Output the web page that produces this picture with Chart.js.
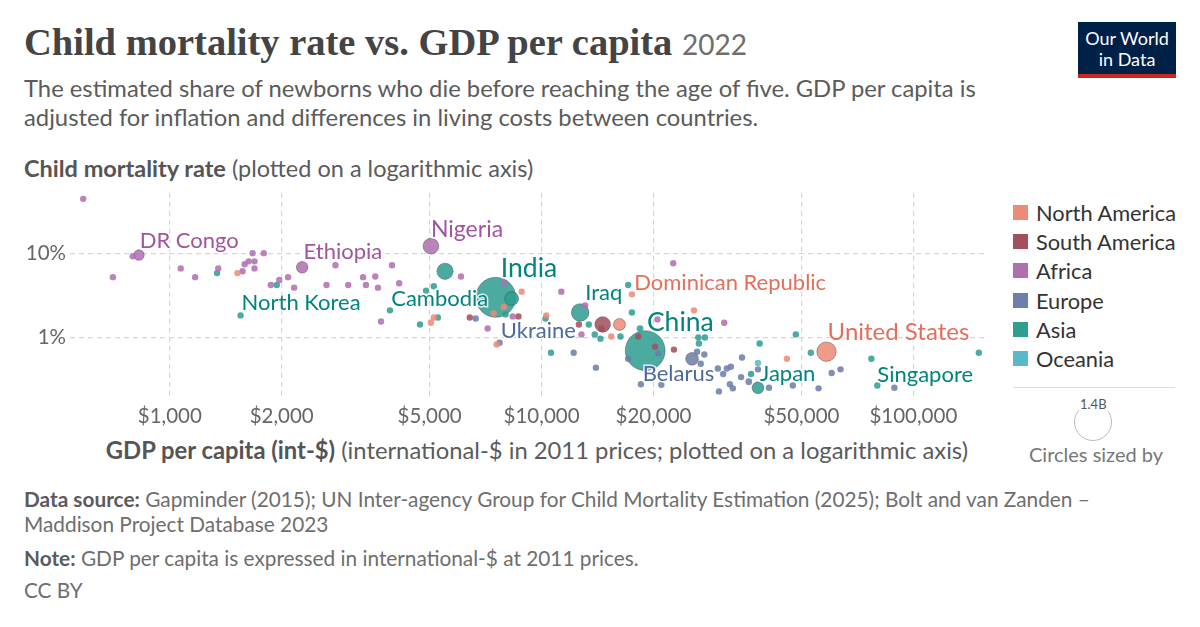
<!DOCTYPE html>
<html><head><meta charset="utf-8">
<script src="https://cdn.jsdelivr.net/npm/chart.js@4"></script>
<style>
body{margin:0;width:1200px;height:627px;background:#fff;font-family:Lato,sans-serif;position:relative;overflow:hidden}
.a{position:absolute;white-space:nowrap}
</style></head><body>
<div class="a" style="left:24px;top:20px;font-family:'Liberation Serif',serif;font-weight:bold;font-size:38.5px;color:#444">Child mortality rate vs. GDP per capita <span style="font-weight:normal;font-size:28px;color:#6e6e6e;font-family:Lato">2022</span></div>
<div class="a" style="left:24px;top:74px;font-size:23.8px;line-height:29px;color:#5b5b5b">The estimated share of newborns who die before reaching the age of five. GDP per capita is<br>adjusted for inflation and differences in living costs between countries.</div>
<div class="a" style="left:24px;top:154px;font-size:23.5px;color:#5b5b5b"><b style="color:#555">Child mortality rate</b> (plotted on a logarithmic axis)</div>
<div class="a" style="left:1078px;top:22px;width:98px;background:#002147;border-bottom:4px solid #ce261e;color:#fff;font-size:18px;line-height:21px;text-align:center;padding-top:6px;box-sizing:border-box;height:56px">Our World<br>in Data</div>
<div class="a" style="left:0;top:172px;width:1008px;height:259px"><canvas id="c"></canvas></div>
<div class="a" style="right:232px;top:436px;font-size:23.8px;color:#5b5b5b"><b style="color:#555">GDP per capita (int-$)</b> (international-$ in 2011 prices; plotted on a logarithmic axis)</div>
<div id="leg" class="a" style="left:1013px;top:198px;font-size:21.8px;color:#333"></div>
<div class="a" style="left:1013px;top:387px;width:162px;height:1px;background:#ddd"></div>
<div class="a" style="left:1074px;top:403px;width:36px;height:36px;border:1.5px solid #bbb;border-radius:50%"></div>
<div class="a" style="left:1079px;top:396px;font-size:13px;color:#555;background:#fff;padding:0 1px">1.4B</div>
<div class="a" style="left:1029px;top:442px;font-size:20px;color:#777">Circles sized by</div>
<div class="a" style="left:24px;top:486px;font-size:20.8px;line-height:25px;color:#6e6e6e"><b style="color:#5b5b5b">Data source:</b> Gapminder (2015); UN Inter-agency Group for Child Mortality Estimation (2025); Bolt and van Zanden –<br>Maddison Project Database 2023</div>
<div class="a" style="left:24px;top:545px;font-size:20.8px;color:#6e6e6e"><b style="color:#5b5b5b">Note:</b> GDP per capita is expressed in international-$ at 2011 prices.</div>
<div class="a" style="left:24px;top:577px;font-size:20.8px;color:#6e6e6e">CC BY</div>
<script>
// [gdp per capita, child mortality %, population millions]
const northAmerica=[[1520,5.8,11],[5040,1.5,20],[5130,1.73,20],[8840,3.5,20],[7910,2.3,20],[7430,1.93,20],[7570,0.83,20],[10300,1.83,20],[15400,1.03,20],[16200,1.43,127],[17500,3.25,11],[25700,2.1,20],[45700,0.56,20],[58400,0.68,335]];
const southAmerica=[[6410,1.73,20],[8670,1.78,20],[12600,1.43,20],[14600,1.43,215],[14500,1.28,20],[18200,1.03,20],[20200,0.78,20],[22700,0.72,20]];
const africa=[[585,44,17],[826,9.5,100],[795,9.2,20],[703,5.2,20],[1070,6.6,20],[1170,5.2,20],[1350,6.6,20],[1570,6.1,20],[1590,7.4,20],[1630,8.0,20],[1690,8.0,20],[1670,10,20],[1790,10,20],[1690,6.6,20],[1870,4.2,20],[1970,4.8,20],[2080,5.2,20],[2160,3.9,20],[2270,6.8,120],[2640,4.2,20],[2790,7.2,20],[3020,4.2,30],[3310,5.2,20],[3370,4.2,20],[3570,5.3,20],[3630,3.9,20],[3960,7.2,20],[4140,4.4,20],[3700,1.55,20],[5040,12.1,220],[6070,5.3,20],[7160,1.28,20],[7910,4.4,20],[8360,1.78,20],[11300,3.5,20],[13100,2.4,20],[12800,1.09,20],[20500,1.64,20],[22600,7.6,20],[31000,1.5,20]];
const europe=[[6650,1.68,20],[7710,0.87,20],[12200,0.66,20],[14000,0.44,20],[17100,0.56,20],[20600,0.65,20],[25400,0.56,145],[26200,0.68,20],[27400,0.63,20],[26800,0.49,20],[29800,0.43,20],[31500,0.43,20],[32300,0.45,20],[30800,0.37,20],[34400,0.34,20],[34600,0.58,20],[36100,0.30,40],[32100,0.28,20],[32700,0.25,20],[30000,0.23,20],[18500,0.28,20],[21000,0.275,20],[38200,0.42,20],[40900,0.254,20],[47400,0.27,20],[55600,0.25,20],[60300,0.38,20],[63700,0.42,20],[88900,0.254,20]];
const asia=[[1340,5.8,20],[1940,4.2,20],[1550,1.83,26],[3910,2.1,20],[4710,1.43,20],[5260,1.73,20],[5500,6.1,235],[5130,4.05,20],[4890,3.6,17],[7530,3.0,1420],[8310,2.9,170],[8000,1.88,20],[10250,1.68,20],[12700,1.98,275],[13400,1.43,20],[13900,1.09,20],[14400,0.97,20],[16300,1.03,20],[17100,4.2,20],[17500,1.98,20],[18400,1.28,40],[19000,0.70,1410],[10600,0.66,20],[26400,1.0,20],[27500,1.0,20],[26500,0.85,20],[38600,0.85,20],[48300,1.09,20],[53000,0.66,20],[36600,0.37,20],[38200,0.254,124],[77100,0.56,20],[80000,0.27,6],[150000,0.66,20]];
const oceania=[[38200,0.50,20]];
const regions=["North America","South America","Africa","Europe","Asia","Oceania"];
const colors=["#EE8A78","#A2505E","#B070B0","#6D7FAA","#2F9E92","#5BB8C8"];
const labelColors=["#E56E5A","#9A4A55","#A2559C","#4C6A9C","#00847E","#3CA4B8"];
const xTicks=[1000,2000,5000,10000,20000,50000,100000];
const yTicks=[1,10];
// [name, gdp, mortality %, region index, font size]
const labels=[["DR Congo",830,13.9,2,22],["Ethiopia",2290,10.3,2,22],["Nigeria",5040,18.8,2,23],["India",7770,6.6,4,26.5],["North Korea",1560,2.6,4,22],["Cambodia",3940,2.9,4,22],["Iraq",13100,3.4,4,22],["Dominican Republic",17750,4.5,0,22],["China",19200,1.5,4,26.5],["Ukraine",7770,1.21,3,22],["United States",58800,1.15,0,24],["Belarus",18700,0.37,3,22],["Japan",38700,0.37,4,22],["Singapore",80000,0.36,4,22]];

const series=[northAmerica,southAmerica,africa,europe,asia,oceania];
document.getElementById('leg').innerHTML=regions.map((r,i)=>`<div style="height:29.2px;display:flex;align-items:center"><span style="width:15px;height:15px;background:${colors[i]};display:inline-block;margin-right:8px"></span>${r}</div>`).join('');
const rad=p=>Math.max(3.2,20*Math.sqrt(p/1420));
const datasets=series.map((s,i)=>({label:regions[i],data:s.map(d=>({x:d[0],y:d[1],p:d[2]})).sort((a,b)=>b.p-a.p),
 backgroundColor:colors[i]+'dd',borderColor:'rgba(60,60,60,0.5)',borderWidth:ctx=>ctx.raw&&ctx.raw.p>60?0.8:0,
 pointRadius:ctx=>rad(ctx.raw.p),pointHoverRadius:ctx=>rad(ctx.raw.p)}));
const labelPlugin={id:'lbl',afterDatasetsDraw(ch){const c=ch.ctx,xs=ch.scales.x,ys=ch.scales.y;c.save();c.textBaseline='middle';
 labels.forEach(l=>{c.font=`${l[4]}px Lato`;const x=xs.getPixelForValue(l[1]),y=ys.getPixelForValue(l[2]);
 c.lineWidth=3;c.strokeStyle='rgba(255,255,255,0.8)';c.strokeText(l[0],x,y);c.fillStyle=labelColors[l[3]];c.fillText(l[0],x,y);});c.restore();}};
new Chart(document.getElementById('c'),{type:'scatter',data:{datasets},plugins:[labelPlugin],
 options:{responsive:true,maintainAspectRatio:false,animation:false,layout:{padding:{top:3,right:0}},
 plugins:{legend:{display:false},tooltip:{enabled:false}},
 scales:{x:{type:'logarithmic',min:539,max:158000,afterBuildTicks:a=>{a.ticks=xTicks.map(v=>({value:v}))},
   afterFit:a=>{a.height=35},border:{display:false,dash:[5,4]},
   grid:{color:'#d6d6d6',drawTicks:false,lineWidth:1.2},
   ticks:{autoSkip:false,maxRotation:0,padding:8,color:'#666',font:{family:'Lato',size:20.5},callback:v=>'$'+Number(v).toLocaleString('en-US')}},
  y:{type:'logarithmic',min:0.203,max:51.9,afterBuildTicks:a=>{a.ticks=yTicks.map(v=>({value:v}))},
   afterFit:a=>{a.width=70},border:{display:false,dash:[5,4]},
   grid:{color:'#d6d6d6',drawTicks:false,lineWidth:1.2},
   ticks:{padding:4,color:'#666',font:{family:'Lato',size:20.5},callback:v=>v+'%'}}}}});
</script></body></html>
